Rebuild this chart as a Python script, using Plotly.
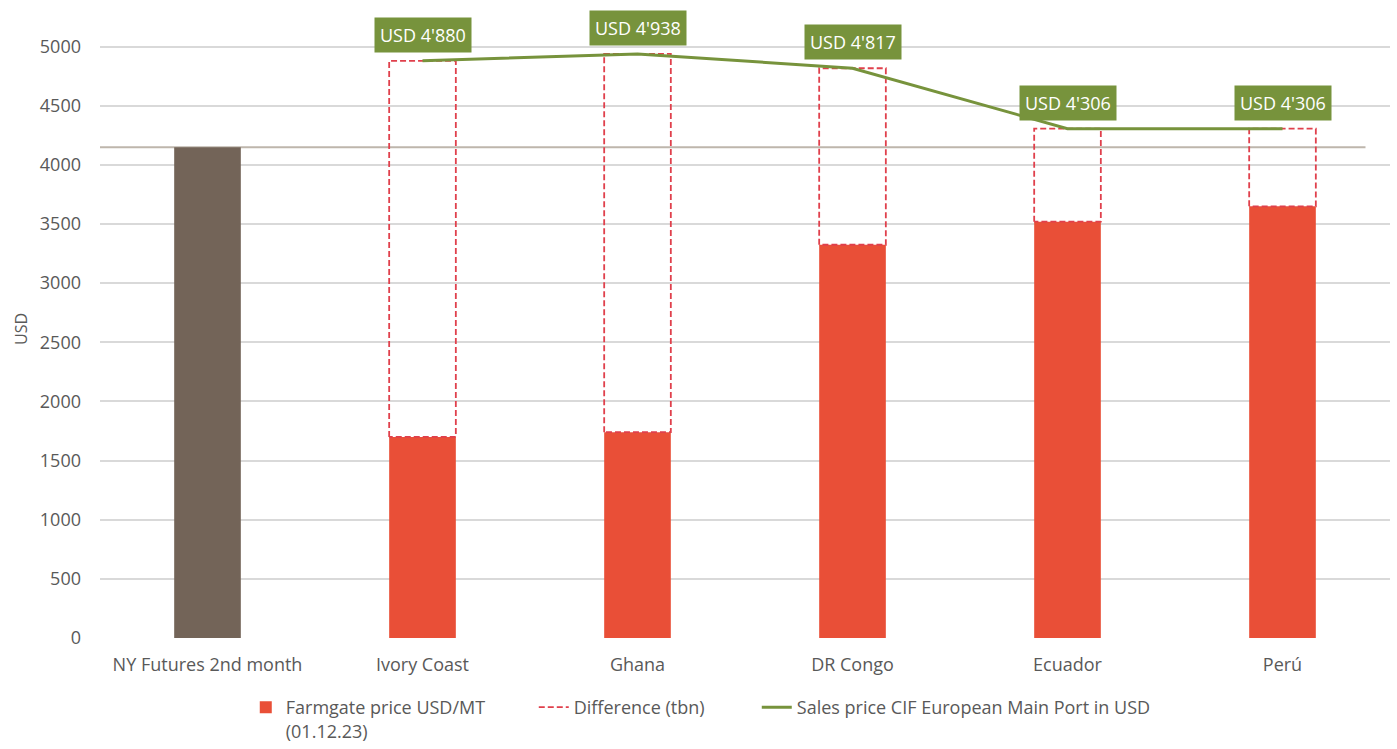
import plotly.graph_objects as go

categories = ["NY Futures 2nd month", "Ivory Coast", "Ghana", "DR Congo", "Ecuador", "Perú"]
ny_futures = 4150
farm_countries = ["Ivory Coast", "Ghana", "DR Congo", "Ecuador", "Perú"]
farmgate = [1700, 1740, 3325, 3520, 3650]
sales_cif = [4880, 4938, 4817, 4306, 4306]
sales_labels = ["USD 4'880", "USD 4'938", "USD 4'817", "USD 4'306", "USD 4'306"]
y_ticks = [0, 500, 1000, 1500, 2000, 2500, 3000, 3500, 4000, 4500, 5000]

FONT = "Open Sans"
GREY = "#595959"
RED = "#E94F37"
BROWN = "#736458"
GREEN = "#77933C"
DASH_RED = "#E0404C"
BAR_W = 0.31

pos = {c: i for i, c in enumerate(categories)}
farm_x = [pos[c] for c in farm_countries]

fig = go.Figure()

fig.add_trace(go.Bar(
    x=[pos[categories[0]]], y=[ny_futures], width=BAR_W,
    marker=dict(color=BROWN, line=dict(width=0)), showlegend=False,
))
fig.add_trace(go.Bar(
    x=farm_x, y=farmgate, width=BAR_W,
    marker=dict(color=RED, line=dict(width=0)),
    name="Farmgate price USD/MT<br>(01.12.23)", legendwidth=243,
))

# dashed boxes for the difference between farmgate and sales price
bx, by = [], []
h = BAR_W / 2
for xi, f, s in zip(farm_x, farmgate, sales_cif):
    bx += [xi - h, xi - h, xi + h, xi + h, xi - h, None]
    by += [f, s, s, f, f, None]
fig.add_trace(go.Scatter(
    x=bx, y=by, mode="lines",
    line=dict(color=DASH_RED, width=1.8, dash="6px,3px"),
    name="Difference (tbn)", connectgaps=False, legendwidth=178,
))

fig.add_trace(go.Scatter(
    x=farm_x, y=sales_cif, mode="lines",
    line=dict(color=GREEN, width=3),
    name="Sales price CIF European Main Port in USD",
))

fig.add_shape(type="line", xref="paper", yref="y", x0=0, x1=0.981,
              y0=ny_futures, y1=ny_futures,
              line=dict(color="#BEB6AC", width=2), layer="below")

for xi, s, lab in zip(farm_x, sales_cif, sales_labels):
    fig.add_annotation(x=xi, y=s, text=lab, showarrow=False, yanchor="bottom",
                       yshift=8, bgcolor=GREEN, borderpad=5,
                       font=dict(family=FONT, size=18, color="white"))

fig.update_layout(
    width=1397, height=749,
    margin=dict(l=100, r=7, t=20, b=111),
    paper_bgcolor="white", plot_bgcolor="white",
    barmode="overlay",
    font=dict(family=FONT, size=16, color=GREY),
    legend=dict(orientation="h", x=0.113, xanchor="left", xref="paper",
                yref="container", y=-0.03, yanchor="bottom",
                font=dict(family=FONT, size=18, color=GREY), traceorder="normal",
                valign="top"),
    xaxis=dict(range=[-0.5, 5.5], tickmode="array", tickvals=list(range(len(categories))),
               ticktext=categories, showgrid=False, zeroline=False, showline=False,
               tickfont=dict(family=FONT, size=18, color=GREY), ticks="",
               ticklabelstandoff=14),
    yaxis=dict(range=[0, 5225], tickmode="array", tickvals=y_ticks,
               gridcolor="#D9D9D9", gridwidth=1.5, zeroline=False, showline=False,
               tickfont=dict(family=FONT, size=18, color=GREY), ticklabelstandoff=18,
               title=dict(text="USD", font=dict(family=FONT, size=16, color=GREY), standoff=8)),
)

fig.write_html("out.html")
